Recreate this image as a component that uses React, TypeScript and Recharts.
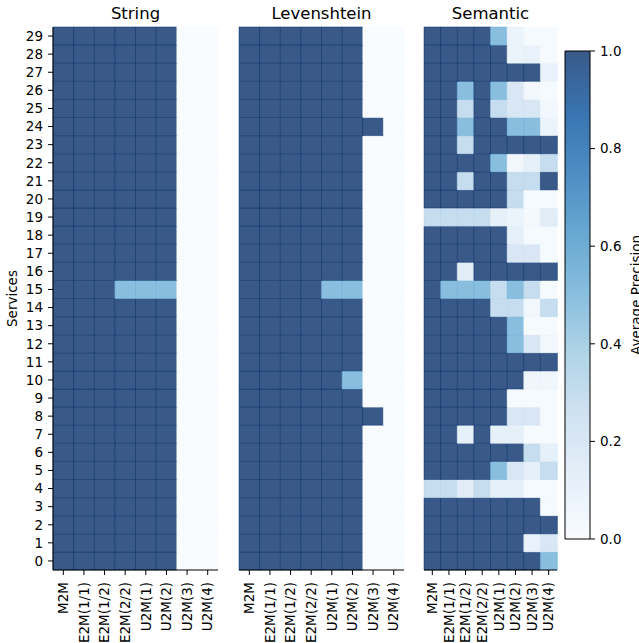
import { BarChart, Bar, Cell, XAxis, YAxis } from 'recharts'

const categories = ['M2M', 'E2M(1/1)', 'E2M(1/2)', 'E2M(2/2)', 'U2M(1)', 'U2M(2)', 'U2M(3)', 'U2M(4)']
const rows = Array.from({ length: 30 }, (_, i) => i)
const colorbarTicks = [0, 0.2, 0.4, 0.6, 0.8, 1.0]

// rows 0..29, columns follow `categories`
const stringScores: number[][] = [
  [1, 1, 1, 1, 1, 1, 0, 0], [1, 1, 1, 1, 1, 1, 0, 0], [1, 1, 1, 1, 1, 1, 0, 0],
  [1, 1, 1, 1, 1, 1, 0, 0], [1, 1, 1, 1, 1, 1, 0, 0], [1, 1, 1, 1, 1, 1, 0, 0],
  [1, 1, 1, 1, 1, 1, 0, 0], [1, 1, 1, 1, 1, 1, 0, 0], [1, 1, 1, 1, 1, 1, 0, 0],
  [1, 1, 1, 1, 1, 1, 0, 0], [1, 1, 1, 1, 1, 1, 0, 0], [1, 1, 1, 1, 1, 1, 0, 0],
  [1, 1, 1, 1, 1, 1, 0, 0], [1, 1, 1, 1, 1, 1, 0, 0], [1, 1, 1, 1, 1, 1, 0, 0],
  [1, 1, 1, 0.5, 0.5, 0.5, 0, 0], [1, 1, 1, 1, 1, 1, 0, 0], [1, 1, 1, 1, 1, 1, 0, 0],
  [1, 1, 1, 1, 1, 1, 0, 0], [1, 1, 1, 1, 1, 1, 0, 0], [1, 1, 1, 1, 1, 1, 0, 0],
  [1, 1, 1, 1, 1, 1, 0, 0], [1, 1, 1, 1, 1, 1, 0, 0], [1, 1, 1, 1, 1, 1, 0, 0],
  [1, 1, 1, 1, 1, 1, 0, 0], [1, 1, 1, 1, 1, 1, 0, 0], [1, 1, 1, 1, 1, 1, 0, 0],
  [1, 1, 1, 1, 1, 1, 0, 0], [1, 1, 1, 1, 1, 1, 0, 0], [1, 1, 1, 1, 1, 1, 0, 0],
]

const levenshteinScores: number[][] = [
  [1, 1, 1, 1, 1, 1, 0, 0], [1, 1, 1, 1, 1, 1, 0, 0], [1, 1, 1, 1, 1, 1, 0, 0],
  [1, 1, 1, 1, 1, 1, 0, 0], [1, 1, 1, 1, 1, 1, 0, 0], [1, 1, 1, 1, 1, 1, 0, 0],
  [1, 1, 1, 1, 1, 1, 0, 0], [1, 1, 1, 1, 1, 1, 0, 0], [1, 1, 1, 1, 1, 1, 1, 0],
  [1, 1, 1, 1, 1, 1, 0, 0], [1, 1, 1, 1, 1, 0.5, 0, 0], [1, 1, 1, 1, 1, 1, 0, 0],
  [1, 1, 1, 1, 1, 1, 0, 0], [1, 1, 1, 1, 1, 1, 0, 0], [1, 1, 1, 1, 1, 1, 0, 0],
  [1, 1, 1, 1, 0.5, 0.5, 0, 0], [1, 1, 1, 1, 1, 1, 0, 0], [1, 1, 1, 1, 1, 1, 0, 0],
  [1, 1, 1, 1, 1, 1, 0, 0], [1, 1, 1, 1, 1, 1, 0, 0], [1, 1, 1, 1, 1, 1, 0, 0],
  [1, 1, 1, 1, 1, 1, 0, 0], [1, 1, 1, 1, 1, 1, 0, 0], [1, 1, 1, 1, 1, 1, 0, 0],
  [1, 1, 1, 1, 1, 1, 1, 0], [1, 1, 1, 1, 1, 1, 0, 0], [1, 1, 1, 1, 1, 1, 0, 0],
  [1, 1, 1, 1, 1, 1, 0, 0], [1, 1, 1, 1, 1, 1, 0, 0], [1, 1, 1, 1, 1, 1, 0, 0],
]

const semanticScores: number[][] = [
  [1, 1, 1, 1, 1, 1, 1, 0.5],
  [1, 1, 1, 1, 1, 1, 0.1, 0.2],
  [1, 1, 1, 1, 1, 1, 1, 1],
  [1, 1, 1, 1, 1, 1, 1, 0.02],
  [0.3, 0.3, 0.15, 0.3, 0.12, 0.12, 0.02, 0.02],
  [1, 1, 1, 1, 0.5, 0.2, 0.12, 0.3],
  [1, 1, 1, 1, 1, 1, 0.3, 0.12],
  [1, 1, 0.12, 1, 0.12, 0.12, 0.02, 0.02],
  [1, 1, 1, 1, 1, 0.2, 0.2, 0.02],
  [1, 1, 1, 1, 1, 0.02, 0.02, 0.02],
  [1, 1, 1, 1, 1, 1, 0.06, 0.06],
  [1, 1, 1, 1, 1, 1, 1, 1],
  [1, 1, 1, 1, 1, 0.5, 0.2, 0.05],
  [1, 1, 1, 1, 1, 0.5, 0.02, 0.02],
  [1, 1, 1, 1, 0.3, 0.3, 0.05, 0.3],
  [1, 0.5, 0.5, 0.5, 0.3, 0.5, 0.3, 0.02],
  [1, 1, 0.15, 1, 1, 1, 1, 1],
  [1, 1, 1, 1, 1, 0.2, 0.2, 0.02],
  [1, 1, 1, 1, 1, 0.12, 0.02, 0.02],
  [0.3, 0.3, 0.3, 0.3, 0.12, 0.08, 0.03, 0.15],
  [1, 1, 1, 1, 1, 0.3, 0.02, 0.02],
  [1, 1, 0.3, 1, 1, 0.3, 0.3, 1],
  [1, 1, 1, 1, 0.5, 0.05, 0.12, 0.3],
  [1, 1, 0.3, 1, 1, 1, 1, 1],
  [1, 1, 0.5, 1, 1, 0.5, 0.5, 0.08],
  [1, 1, 0.3, 1, 0.3, 0.2, 0.2, 0.05],
  [1, 1, 0.5, 1, 0.5, 0.2, 0.05, 0.02],
  [1, 1, 1, 1, 1, 1, 1, 0.1],
  [1, 1, 1, 1, 1, 0.08, 0.1, 0.02],
  [1, 1, 1, 1, 0.5, 0.08, 0.02, 0.02],
]

const W = 639
const H = 643
const PLOT_TOP = 27
const X_AXIS_H = 73
const FONT = 'DejaVu Sans'
const TICK_FS = 13.5

// matplotlib "Blues", drawn with alpha 0.8 on white
const BLUES = ['#f7fbff', '#deebf7', '#c6dbef', '#9ecae1', '#6baed6', '#4292c6', '#2171b5', '#08519c', '#08306b']

function hexToRgb(h: string) {
  return [1, 3, 5].map((i) => parseInt(h.slice(i, i + 2), 16))
}

function blues(v: number) {
  const t = Math.max(0, Math.min(1, v)) * (BLUES.length - 1)
  const i = Math.min(BLUES.length - 2, Math.floor(t))
  const f = t - i
  const a = hexToRgb(BLUES[i])
  const b = hexToRgb(BLUES[i + 1])
  return a.map((c, k) => c + (b[k] - c) * f)
}

function toCss(c: number[]) {
  return `rgb(${c.map((x) => Math.round(x)).join(',')})`
}

const cellFill = (v: number) => toCss(blues(v).map((c) => 0.8 * c + 0.2 * 255))
const cellEdge = (v: number) => toCss(blues(v))

const rowTicks = rows.map((r) => r + 0.5)

function XTick(props: any) {
  const { x, y, payload } = props
  return (
    <text
      transform={`translate(${x},${y}) rotate(-90)`}
      textAnchor="end"
      dy="0.35em"
      fontSize={TICK_FS}
      fontFamily={FONT}
      fill="#000"
    >
      {payload.value}
    </text>
  )
}

interface HeatPanelProps {
  scores: number[][]
  plotLeft: number
  plotRight: number
  showY?: boolean
}

function HeatPanel({ scores, plotLeft, plotRight, showY }: HeatPanelProps) {
  const data = categories.map((name) => {
    const d: Record<string, any> = { name }
    rows.forEach((r) => (d[`r${r}`] = 1))
    return d
  })
  return (
    <BarChart
      width={W}
      height={H}
      data={data}
      margin={{ top: PLOT_TOP, right: W - plotRight, bottom: 0, left: showY ? 0 : plotLeft }}
      barCategoryGap={0}
      barGap={0}
    >
      <XAxis
        dataKey="name"
        type="category"
        height={X_AXIS_H}
        interval={0}
        tickSize={5}
        tickMargin={7}
        tick={<XTick />}
        tickLine={{ stroke: '#000' }}
        axisLine={{ stroke: '#000' }}
      />
      <XAxis
        xAxisId="top"
        orientation="top"
        dataKey="name"
        height={0}
        tick={false}
        tickLine={false}
        axisLine={{ stroke: '#000' }}
      />
      <YAxis
        type="number"
        domain={[0, 30]}
        ticks={showY ? rowTicks : []}
        interval={0}
        width={showY ? plotLeft : 0}
        tickFormatter={(v: number) => String(Math.floor(v))}
        tickSize={5}
        tickMargin={5}
        tick={showY ? { fontSize: TICK_FS, fill: '#000', fontFamily: FONT } : false}
        tickLine={showY ? { stroke: '#000' } : false}
        axisLine={{ stroke: '#000' }}
      />
      <YAxis
        yAxisId="right"
        orientation="right"
        type="number"
        domain={[0, 30]}
        width={0}
        tick={false}
        tickLine={false}
        axisLine={{ stroke: '#000' }}
      />
      {rows.map((r) => (
        <Bar key={r} dataKey={`r${r}`} stackId="s" isAnimationActive={false}>
          {categories.map((c, j) => (
            <Cell key={c} fill={cellFill(scores[r][j])} stroke={cellEdge(scores[r][j])} strokeWidth={0.5} />
          ))}
        </Bar>
      ))}
    </BarChart>
  )
}

function Colorbar() {
  const stops = BLUES.map((_, i) => i / (BLUES.length - 1))
  return (
    <BarChart
      width={W}
      height={H}
      data={[{ name: 'cb', v: 1 }]}
      margin={{ top: 51, right: 0, bottom: H - 539, left: 565 }}
      barCategoryGap={0}
    >
      <defs>
        <linearGradient id="cbGrad" x1="0" y1="1" x2="0" y2="0">
          {stops.map((s) => (
            <stop key={s} offset={s} stopColor={cellFill(s)} />
          ))}
        </linearGradient>
      </defs>
      <XAxis dataKey="name" hide />
      <YAxis
        orientation="right"
        type="number"
        domain={[0, 1]}
        ticks={colorbarTicks}
        interval={0}
        width={49}
        tickFormatter={(v: number) => v.toFixed(1)}
        tickSize={5}
        tickMargin={5}
        tick={{ fontSize: TICK_FS, fill: '#000', fontFamily: FONT }}
        tickLine={{ stroke: '#000' }}
        axisLine={false}
      />
      <Bar dataKey="v" fill="url(#cbGrad)" stroke="#000" strokeWidth={1} isAnimationActive={false} />
    </BarChart>
  )
}

const layer: React.CSSProperties = { position: 'absolute', left: 0, top: 0 }

export default function App() {
  return (
    <div style={{ position: 'absolute', left: 0, top: 0, width: W, height: H, background: '#fff', overflow: 'hidden' }}>
      <div style={layer}>
        <HeatPanel scores={stringScores} plotLeft={53} plotRight={218} showY />
      </div>
      <div style={layer}>
        <HeatPanel scores={levenshteinScores} plotLeft={239} plotRight={404} />
      </div>
      <div style={layer}>
        <HeatPanel scores={semanticScores} plotLeft={424} plotRight={557} />
      </div>
      <div style={layer}>
        <Colorbar />
      </div>
      <svg width={W} height={H} style={{ ...layer, pointerEvents: 'none' }}>
        <g fontFamily={FONT} fill="#000">
          <text x={135.5} y={18.5} fontSize={16.5} textAnchor="middle">String</text>
          <text x={321.5} y={18.5} fontSize={16.5} textAnchor="middle">Levenshtein</text>
          <text x={490.5} y={18.5} fontSize={16.5} textAnchor="middle">Semantic</text>
          <text transform="translate(16.5,298.5) rotate(-90)" fontSize={TICK_FS} textAnchor="middle">Services</text>
          <text transform="translate(640.5,295) rotate(-90)" fontSize={TICK_FS} textAnchor="middle">Average Precision</text>
        </g>
      </svg>
    </div>
  )
}
